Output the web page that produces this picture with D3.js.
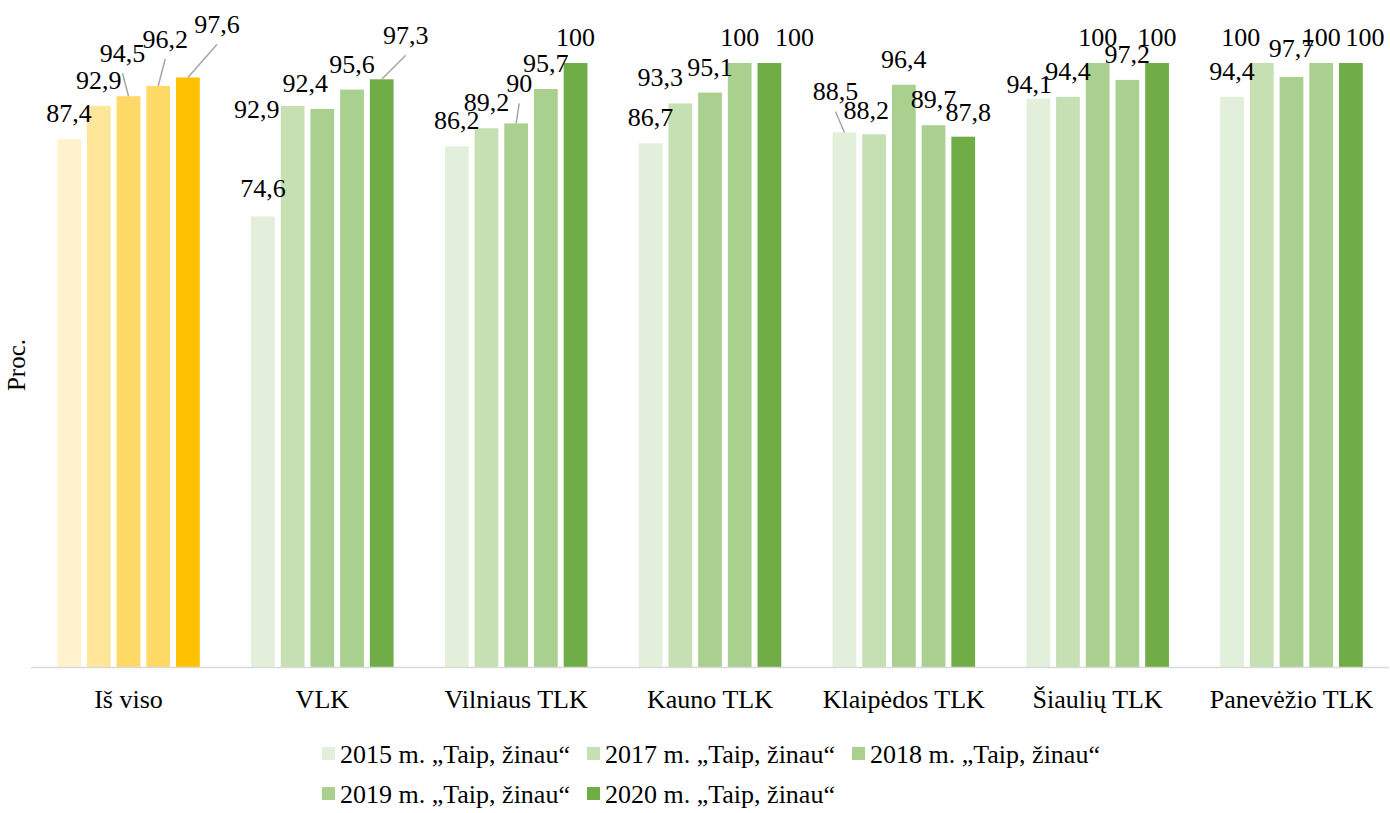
<!DOCTYPE html>
<html>
<head>
<meta charset="utf-8">
<script src="https://d3js.org/d3.v7.min.js"></script>
<style>
  body { margin: 0; background: #fff; }
  text { font-family: "Liberation Serif", "Times New Roman", serif; fill: #000; }
</style>
</head>
<body>
<div id="chartContainer"></div>
<script>
// categories and series
var groups = ["Iš viso", "VLK", "Vilniaus TLK", "Kauno TLK", "Klaipėdos TLK", "Šiaulių TLK", "Panevėžio TLK"];
var seriesNames = ["2015 m. „Taip, žinau“", "2017 m. „Taip, žinau“", "2018 m. „Taip, žinau“",
                   "2019 m. „Taip, žinau“", "2020 m. „Taip, žinau“"];
var v2015 = [87.4, 74.6, 86.2, 86.7, 88.5, 94.1, 94.4];
var v2017 = [92.9, 92.9, 89.2, 93.3, 88.2, 94.4, 100];
var v2018 = [94.5, 92.4, 90, 95.1, 96.4, 100, 97.7];
var v2019 = [96.2, 95.6, 95.7, 100, 89.7, 97.2, 100];
var v2020 = [97.6, 97.3, 100, 100, 87.8, 100, 100];
var seriesValues = [v2015, v2017, v2018, v2019, v2020];

// colours: first group is yellow ("Iš viso"), the rest green
var yellows = ["#FFF2CC", "#FFE699", "#FFD966", "#FFD966", "#FFC000"];
var greens = ["#E2EFDA", "#C6E0B4", "#A9D08E", "#A9D08E", "#70AD47"];

// manual label nudges (dx, dy) per group, per series - like the hand placed labels in the original
var labelShift = [
  [[0, 0], [0, 0], [-6, -17], [7, -21], [29, -27]],
  [[0, -2], [-36, 29], [-17, 0], [0, 0], [24, -18]],
  [[0, 0], [0, 0], [3, -14], [0, 0], [0, 0]],
  [[0, 0], [-20, 0], [0, 0], [0, 0], [25, 0]],
  [[-9, -15], [-8, 2], [0, 0], [0, 0], [5, 1]],
  [[-9, 11], [0, 0], [0, 0], [0, 0], [0, 0]],
  [[0, 0], [-21, 0], [0, -3], [0, 0], [14, 0]]
];

var W = 1390, H = 813;
var svg = d3.select("#chartContainer").append("svg")
  .attr("width", W).attr("height", H);

var x = d3.scaleBand().domain(groups).range([31, 1389]).paddingInner(0.234).paddingOuter(0.12);
var xs = d3.scaleBand().domain(d3.range(seriesNames.length)).range([0, x.bandwidth()])
  .paddingInner(0.2).paddingOuter(0.1);
var y = d3.scaleLinear().domain([0, 100]).range([667, 63]);

var fs = 26;

// bars
var g = svg.selectAll(".grp").data(groups).enter().append("g")
  .attr("class", "grp")
  .attr("transform", function(d) { return "translate(" + x(d) + ",0)"; });

g.each(function(gname, gi) {
  var cell = d3.select(this);
  var pal = gi === 0 ? yellows : greens;
  var rows = seriesValues.map(function(vals, si) { return { si: si, v: vals[gi] }; });
  cell.selectAll("rect").data(rows).enter().append("rect")
    .attr("x", function(d) { return xs(d.si); })
    .attr("y", function(d) { return y(d.v); })
    .attr("width", xs.bandwidth())
    .attr("height", function(d) { return y(0) - y(d.v); })
    .attr("fill", function(d) { return pal[d.si]; });
});

// axis line
svg.append("line")
  .attr("x1", 31).attr("x2", 1389)
  .attr("y1", y(0) + 0.5).attr("y2", y(0) + 0.5)
  .attr("stroke", "#d9d9d9").attr("stroke-width", 1.5);

// category labels
svg.selectAll(".cat").data(groups).enter().append("text")
  .attr("class", "cat")
  .attr("x", function(d) { return x(d) + x.bandwidth() / 2; })
  .attr("y", 708)
  .attr("text-anchor", "middle")
  .attr("font-size", fs)
  .text(function(d) { return d; });

// y axis title
svg.append("text")
  .attr("transform", "translate(25," + ((y(0) + y(100)) / 2) + ") rotate(-90)")
  .attr("text-anchor", "middle")
  .attr("font-size", 25)
  .text("Proc.");

// data labels + leader lines
var labels = [];
groups.forEach(function(gname, gi) {
  seriesValues.forEach(function(vals, si) {
    var bx = x(gname) + xs(si) + xs.bandwidth() / 2;
    var by = y(vals[gi]);
    var sh = labelShift[gi][si];
    labels.push({ v: vals[gi], bx: bx, by: by, lx: bx + sh[0], ly: by - 17 + sh[1], lead: sh[1] < -10 });
  });
});

svg.selectAll(".leader").data(labels.filter(function(d) { return d.lead; })).enter().append("line")
  .attr("class", "leader")
  .attr("x1", function(d) { return d.lx; })
  .attr("y1", function(d) { return d.ly + 11; })
  .attr("x2", function(d) { return d.bx; })
  .attr("y2", function(d) { return d.by; })
  .attr("stroke", "#a6a6a6").attr("stroke-width", 1.5);

svg.selectAll(".lbl").data(labels).enter().append("text")
  .attr("class", "lbl")
  .attr("x", function(d) { return d.lx; })
  .attr("y", function(d) { return d.ly; })
  .attr("text-anchor", "middle")
  .attr("font-size", fs)
  .text(function(d) { return String(d.v).replace(".", ","); });

// legend: two rows, left aligned, 3 + 2 items
var legend = svg.append("g").attr("transform", "translate(322,0)");
var perRow = 3, colStep = 265, rowY = [763, 803];
seriesNames.forEach(function(name, i) {
  var col = i % perRow, row = Math.floor(i / perRow);
  var item = legend.append("g").attr("transform", "translate(" + (col * colStep) + "," + rowY[row] + ")");
  item.append("rect").attr("x", 0).attr("y", -16).attr("width", 13).attr("height", 13)
    .attr("fill", greens[i]);
  item.append("text").attr("x", 18).attr("y", 0).attr("font-size", fs).text(name);
});
</script>
</body>
</html>
